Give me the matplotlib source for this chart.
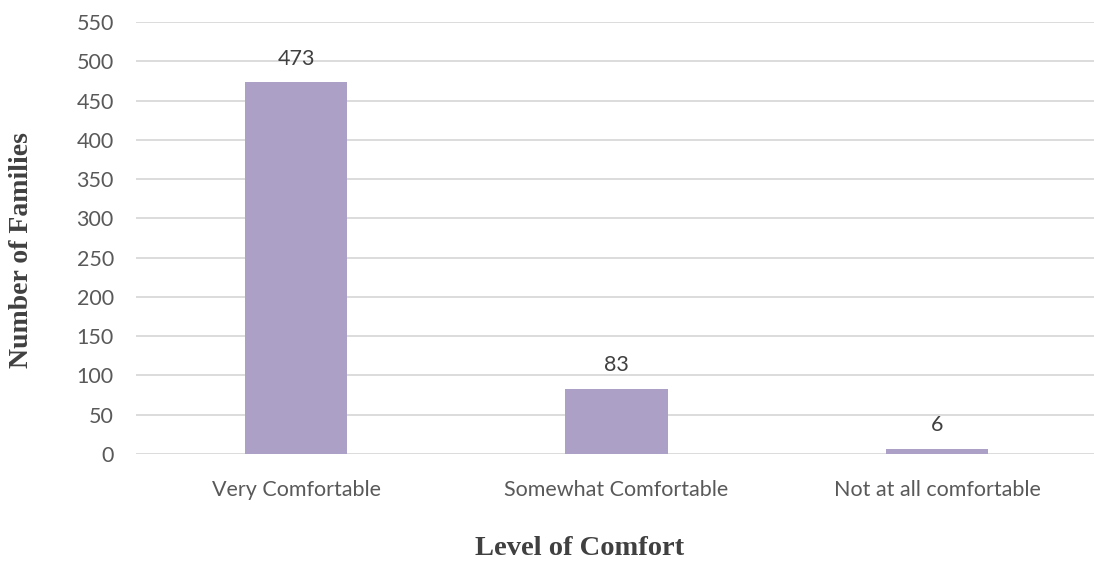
import matplotlib
matplotlib.use("Agg")
import matplotlib.pyplot as plt

categories = ["Very Comfortable", "Somewhat Comfortable", "Not at all comfortable"]
families = [473, 83, 6]
y_ticks = list(range(0, 551, 50))

bar_color = "#ADA0C6"
grid_color = "#D9D9D9"
text_color = "#595959"
tick_font = "Lato"

fig = plt.figure(figsize=(10.94, 5.63), dpi=100)
ax = fig.add_axes([136 / 1094, 1 - 454 / 563, (1094 - 136) / 1094, (454 - 22) / 563])

x = range(len(categories))
bars = ax.bar(x, families, width=0.32, color=bar_color, zorder=3)

ax.set_ylim(0, 550)
ax.set_xlim(-0.5, 2.49)
ax.set_yticks(y_ticks)
ax.set_xticks(list(x))
ax.set_xticklabels(categories)
ax.yaxis.grid(True, color=grid_color, linewidth=1.3, zorder=0)
ax.set_axisbelow(True)
for s in ax.spines.values():
    s.set_visible(False)
ax.tick_params(axis="both", length=0, colors=text_color, labelsize=15.5)
ax.tick_params(axis="y", pad=16)
ax.tick_params(axis="x", pad=19)
for lab in ax.get_xticklabels() + ax.get_yticklabels():
    lab.set_fontfamily(tick_font)
    lab.set_color(text_color)

for rect, v in zip(bars, families):
    ax.annotate(str(v), (rect.get_x() + rect.get_width() / 2, v),
                xytext=(0, 10), textcoords="offset points",
                ha="center", va="bottom", fontsize=15.5,
                family=tick_font, color="#404040")

fig.text(22 / 1094, 1 - 250 / 563, "Number of Families", rotation=90,
         ha="center", va="center", fontsize=20, fontweight="bold",
         family="Liberation Serif", color="#404040")
fig.text(580 / 1094, 1 - 555 / 563, "Level of Comfort",
         ha="center", va="baseline", fontsize=20.5, fontweight="bold",
         family="Liberation Serif", color="#404040")

fig.savefig("out.png", dpi=100, facecolor="white")
